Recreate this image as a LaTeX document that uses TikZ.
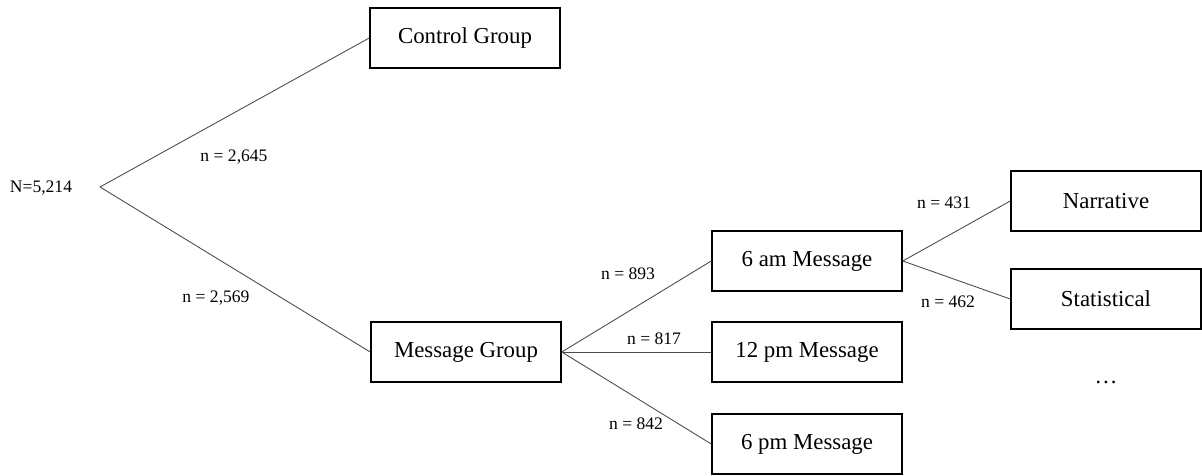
\documentclass[tikz,border=0pt]{standalone}
\usepackage{fontspec}
\setmainfont{Liberation Serif}
\usetikzlibrary{positioning}

\begin{document}
\begin{tikzpicture}[x=0.02cm, y=-0.02cm,
  grp/.style={rectangle, draw=black, line width=0.9pt, fill=white,
              font=\fontsize{13}{15}\selectfont, minimum width=3.8cm, minimum height=1.2cm},
  br/.style={draw=black!70, line width=0.5pt},
  nlb/.style={font=\fontsize{10}{12}\selectfont, inner sep=0pt}
]
\useasboundingbox (0,0) rectangle (1202,476);

\node[nlb] (total) at (41,188) {N=5,214};
\coordinate (root) at (100,187);

\node[grp] (ctrl) at (465,38)  {Control Group};
\node[grp] (msg)  at (466,352) {Message Group};

\node[grp] (am)   at (807,261) {6 am Message};
\node[grp] (noon) at (807,352) {12 pm Message};
\node[grp] (pm)   at (807,444) {6 pm Message};

\node[grp] (narr) at (1106,201) {Narrative};
\node[grp] (stat) at (1106,299) {Statistical};
\node[font=\fontsize{13}{15}\selectfont] (more) at (1106,382) {…};

\foreach \g in {ctrl,msg}
  \draw[br] (root) -- (\g.west);
\foreach \t in {am,noon,pm}
  \draw[br] (msg.east) -- (\t.west);
\foreach \s in {narr,stat}
  \draw[br] (am.east) -- (\s.west);

\node[nlb] at (234,157) {n = 2,645};
\node[nlb] at (216,298) {n = 2,569};
\node[nlb] at (628,274) {n = 893};
\node[nlb] at (654,339) {n = 817};
\node[nlb] at (636,424) {n = 842};
\node[nlb] at (944,203) {n = 431};
\node[nlb] at (948,302) {n = 462};

\end{tikzpicture}
\end{document}
